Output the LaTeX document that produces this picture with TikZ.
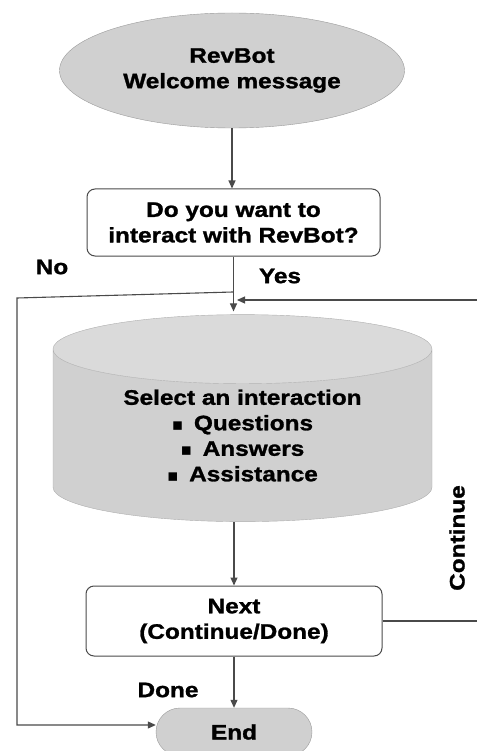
\documentclass[tikz,border=0pt]{standalone}
\usepackage{fontspec}
\setmainfont{Liberation Sans}[FakeStretch=1.16,BoldFeatures={FakeBold=1.3}]
\newfontfamily\symfont{DejaVu Sans}
\usepackage{tikz}
\usetikzlibrary{arrows.meta,positioning,calc,shapes.geometric,shapes.misc}
\definecolor{botgray}{HTML}{D0D0D0}
\definecolor{bottop}{HTML}{DADADA}
\definecolor{edgegray}{HTML}{9A9A9A}
\definecolor{linegray}{HTML}{4A4A4A}
\newcommand{\sq}{{\symfont\fontsize{17}{17}\selectfont\char"25AA}\hspace{0.5em}}

\begin{document}
\begin{tikzpicture}[x=1pt,y=-1pt,
  txt/.style={font=\bfseries\fontsize{21}{25.5}\selectfont,align=center,inner sep=0pt},
  boxnode/.style={txt,draw=linegray,line width=1pt,rounded corners=8pt,fill=white},
  link/.style={linegray,line width=1.1pt,-{Triangle[length=8pt,width=7pt]}}]
\useasboundingbox (0,0) rectangle (476,751);
\node[txt,ellipse,fill=botgray,draw=edgegray,minimum width=345,minimum height=115] (welcome) at (232,70.5) {RevBot\\Welcome message};
\node[boxnode,minimum width=293,minimum height=67] (ask) at (233.5,222.5) {Do you want to\\interact with RevBot?};
\node[txt,cylinder,shape border rotate=90,aspect=0.29,draw=edgegray!80,cylinder uses custom fill,cylinder body fill=botgray,cylinder end fill=bottop,minimum width=379,minimum height=207] (menu) at (242.5,435.5) {Select an interaction\\\sq Questions\\\sq Answers\\\sq Assistance};
\node[boxnode,minimum width=296,minimum height=70] (next) at (234,621) {Next\\(Continue/Done)};
\node[txt,rounded rectangle,fill=botgray,draw=edgegray,minimum width=156,minimum height=48] (finish) at (234,732) {End};
% labels
\node[txt] (nolbl) at (52,267) {No};
\node[txt] (yeslbl) at (280,276) {Yes};
\node[txt] (donelbl) at (168,690) {Done};
\node[txt,rotate=90] (contlbl) at (457,538) {Continue};
% connectors
\coordinate (split) at (233,292);
\coordinate (nocorner) at (17,298);
\coordinate (loopcorner) at (479,300);
\coordinate (loopin) at (237,300);
\draw[link] (welcome.south) -- (welcome.south |- ask.north);
\draw[link,shorten >=3pt] (ask.south) -- (ask.south |- menu.north);
\draw[link] (split) -- (nocorner) |- ([yshift=7pt]finish.west);
\draw[link] (next.east) -| (loopcorner) -- (loopin);
\draw[link] (menu.south -| next.north) -- (next.north);
\draw[link] (next.south) -- (finish.north);
\end{tikzpicture}
\end{document}
